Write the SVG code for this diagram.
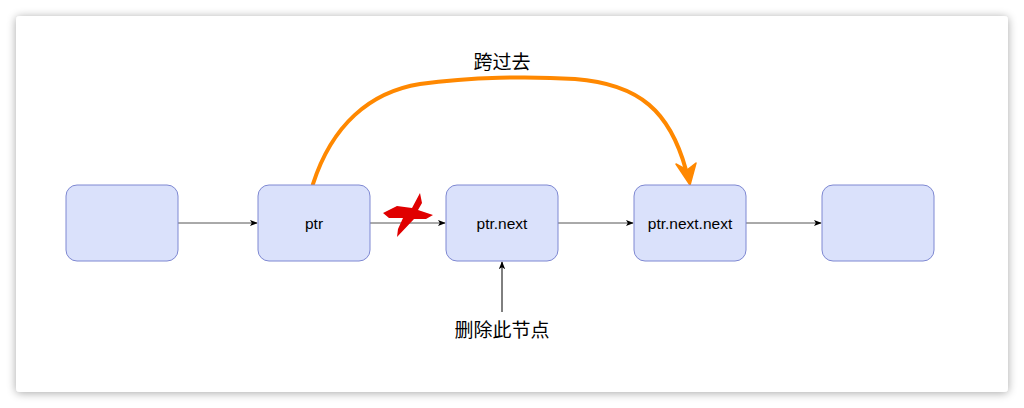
<svg xmlns="http://www.w3.org/2000/svg" width="1024" height="408" viewBox="0 0 1024 408">
<style>
.node rect{fill:#dae1fb;stroke:#7e88d2;stroke-width:1}
.node text{font-family:"Liberation Sans",Arial,sans-serif;font-size:15.5px;fill:#000;text-anchor:middle;dominant-baseline:central}
.lbl{font-family:"Noto Sans CJK SC","Noto Sans",sans-serif;font-size:19px;fill:#000;text-anchor:middle}
.conn{fill:none;stroke:#555;stroke-width:1}
</style>
<defs>
<filter id="sh" x="-5%" y="-10%" width="110%" height="120%">
<feGaussianBlur in="SourceAlpha" stdDeviation="5"/>
<feOffset dx="0" dy="1"/>
<feComponentTransfer><feFuncA type="linear" slope="0.35"/></feComponentTransfer>
<feMerge><feMergeNode/><feMergeNode in="SourceGraphic"/></feMerge>
</filter>
<marker id="ah" viewBox="0 0 10 10" refX="9" refY="5" markerWidth="8" markerHeight="8" markerUnits="userSpaceOnUse" orient="auto">
<path d="M0,1 L10,5 L0,9 L2.5,5 Z" fill="#000"/>
</marker>
</defs>
<rect x="16" y="16" width="992" height="376" rx="4" fill="#fff" filter="url(#sh)"/>
<g id="connectors">
<line class="conn" x1="178" y1="223" x2="257" y2="223" marker-end="url(#ah)"/>
<line class="conn" x1="370" y1="223" x2="445" y2="223" marker-end="url(#ah)"/>
<line class="conn" x1="558" y1="223" x2="633" y2="223" marker-end="url(#ah)"/>
<line class="conn" x1="746" y1="223" x2="821" y2="223" marker-end="url(#ah)"/>
<line class="conn" x1="502" y1="312" x2="502" y2="262" marker-end="url(#ah)" style="stroke:#000"/>
<path d="M313,184 C332,125 370,92 420,84 C470,77 530,76 575,79 C640,84 670,112 686,170" fill="none" stroke="#ff8800" stroke-width="4" stroke-linecap="round"/>
<path d="M690,185 L676,164 L687,170 L696,163 Z" fill="#ff8800" stroke="#ff8800" stroke-width="1.5" stroke-linejoin="round"/>
</g>
<g id="skip-label"><text class="lbl" x="502" y="69">跨过去</text></g>
<g id="cross">
<polygon points="383,213 397,206 412,208 420,193 422,203 418,210 433,215 426,219 414,219 397,237 398,229 403,218 389,218" fill="#e00000"/>
</g>
<g id="n1" class="node"><rect x="66" y="185" width="112" height="76" rx="11"/></g>
<g id="n2" class="node"><rect x="258" y="185" width="112" height="76" rx="11"/><text x="314" y="223">ptr</text></g>
<g id="n3" class="node"><rect x="446" y="185" width="112" height="76" rx="11"/><text x="502" y="223">ptr.next</text></g>
<g id="n4" class="node"><rect x="634" y="185" width="112" height="76" rx="11"/><text x="690" y="223">ptr.next.next</text></g>
<g id="n5" class="node"><rect x="822" y="185" width="112" height="76" rx="11"/></g>
<g id="del-label"><text class="lbl" x="502" y="337">删除此节点</text></g>
</svg>
